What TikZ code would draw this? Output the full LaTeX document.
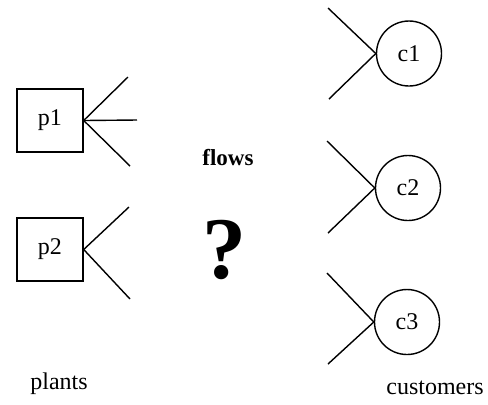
\documentclass[tikz,border=0pt]{standalone}
\usepackage{fontspec}
\setmainfont{Liberation Serif}
\usetikzlibrary{positioning}

\begin{document}
\begin{tikzpicture}
  [x=0.5pt, y=-0.5pt, line width=0.7pt,
   font=\fontsize{12}{14}\selectfont,
   plant/.style = {rectangle, draw=black, minimum width=33pt,
     minimum height=31.5pt, inner sep=0pt},
   customer/.style = {circle, draw=black, minimum size=32.5pt, inner sep=0pt},
   caption/.style = {draw=none, inner sep=0pt}]
  \useasboundingbox (0,0) rectangle (488,404);
  % plants and customers
  \node[plant] (p1) at (50,120.5) {p1};
  \node[plant] (p2) at (50,249.5) {p2};
  \node[customer] (c1) at (409,53.5) {c1};
  \node[customer] (c2) at (408,188) {c2};
  \node[customer] (c3) at (407,322) {c3};
  % loose ends of the flows
  \coordinate (p1a) at (128,77);
  \coordinate (p1b) at (137,120);
  \coordinate (p1c) at (130,166);
  \coordinate (p2a) at (129,207);
  \coordinate (p2b) at (130,299);
  \coordinate (c1a) at (328,8);
  \coordinate (c1b) at (329,99);
  \coordinate (c2a) at (327,141);
  \coordinate (c2b) at (328,233);
  \coordinate (c3a) at (327,273);
  \coordinate (c3b) at (328,364);
  \draw (p1.east) -- (p1a);
  \draw (p1.east) -- (p1b);
  \draw (p1.east) -- (p1c);
  \draw (p2.east) -- (p2a);
  \draw (p2.east) -- (p2b);
  \draw (c1.west) -- (c1a);
  \draw (c1.west) -- (c1b);
  \draw (c2.west) -- (c2a);
  \draw (c2.west) -- (c2b);
  \draw (c3.west) -- (c3a);
  \draw (c3.west) -- (c3b);
  % texts
  \node[caption, font=\fontsize{11.5}{14}\selectfont\bfseries] (flows) at (228,158) {flows};
  \node[caption, font=\fontsize{44}{44}\selectfont\bfseries] (query) at (224,250) {?};
  \node[caption] (plants) at (59,384) {plants};
  \node[caption] (customers) at (435,388) {customers};
\end{tikzpicture}
\end{document}
